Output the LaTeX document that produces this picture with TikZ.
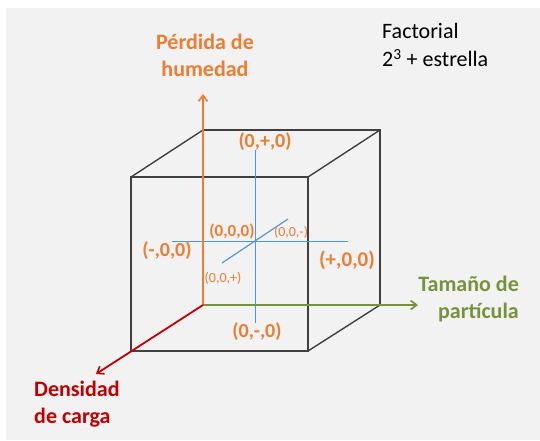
\documentclass[tikz,border=0pt]{standalone}
\usepackage{fontspec}
\setmainfont{Carlito}
\usetikzlibrary{arrows.meta}
\definecolor{bggray}{RGB}{242,242,242}
\definecolor{cubeline}{RGB}{64,64,64}
\definecolor{axorange}{RGB}{237,125,49}
\definecolor{axgreen}{RGB}{118,146,60}
\definecolor{axred}{RGB}{192,0,0}
\definecolor{axblue}{RGB}{80,150,215}
\begin{document}
\begin{tikzpicture}[x=1pt,y=-1pt,
  cubeedge/.style={draw=cubeline,line width=1.4pt},
  axisarrow/.style={line width=1.8pt,-{Straight Barb[length=6pt,width=9pt,line width=1.6pt]}},
  starline/.style={draw=axblue,line width=1.2pt},
  axlabel/.style={font=\fontsize{22}{27}\selectfont\bfseries,align=center,inner sep=0pt},
  ptbig/.style={text=axorange,font=\fontsize{20}{24}\selectfont\bfseries,inner sep=0pt},
  ptmid/.style={text=axorange,font=\fontsize{17}{20}\selectfont\bfseries,inner sep=0pt},
  ptsmall/.style={text=axorange,font=\fontsize{14}{17}\selectfont,inner sep=0pt}]
\useasboundingbox (0,0) rectangle (540,440);
\fill[white] (0,0) rectangle (540,440);
\fill[bggray] (6,8) rectangle (540,440);
% cube corners
\coordinate (FTL) at (131,177);
\coordinate (FTR) at (308,177);
\coordinate (FBL) at (131,351);
\coordinate (FBR) at (308,351);
\coordinate (BTL) at (203,130);
\coordinate (BTR) at (380,130);
\coordinate (BBL) at (203,305);
\coordinate (BBR) at (380,305);
% cube edges
\draw[cubeedge] (FTL) -- (FTR) -- (FBR) -- (FBL) -- cycle;
\draw[cubeedge] (BTL) -- (BTR) -- (BBR);
\draw[cubeedge] (FTL) -- (BTL);
\draw[cubeedge] (FTR) -- (BTR);
\draw[cubeedge] (FBR) -- (BBR);
% star lines
\coordinate (SU) at (255.5,150);
\coordinate (SD) at (255.5,323);
\coordinate (SL) at (172,241.5);
\coordinate (SR) at (348,241.5);
\coordinate (SF) at (222,263);
\coordinate (SB) at (288,219);
\draw[starline] (SU) -- (SD);
\draw[starline] (SL) -- (SR);
\draw[starline] (SF) -- (SB);
% axis end points
\coordinate (AUp) at (203,94);
\coordinate (ARight) at (418,305);
\coordinate (ADown) at (96,374);
\draw[axisarrow,draw=axorange] (BBL) -- (AUp);
\draw[axisarrow,draw=axgreen] (BBL) -- (ARight);
\draw[axisarrow,draw=axred] (BBL) -- (ADown);
% axis labels
\node[axlabel,text=axorange] (lup) at (205,55) {Pérdida de\\humedad};
\node[axlabel,text=axgreen,align=right,anchor=east] (lright) at (519,299) {Tamaño de\\partícula};
\node[axlabel,text=axred,align=left,anchor=west] (ldown) at (34,404) {Densidad\\de carga};
\node[font=\fontsize{22}{28}\selectfont,align=left,anchor=west,inner sep=0pt] (title) at (382,45) {Factorial\\2\textsuperscript{3} + estrella};
% point labels
\node[ptbig] (p1) at (265,142) {(0,+,0)};
\node[ptbig] (p2) at (257,332) {(0,-,0)};
\node[ptbig] (p3) at (167,251) {(-,0,0)};
\node[ptbig,font=\fontsize{21}{24}\selectfont\bfseries] (p4) at (347,260) {(+,0,0)};
\node[ptmid] (p5) at (232,231) {(0,0,0)};
\node[ptsmall] (p6) at (291,232) {(0,0,-)};
\node[ptsmall] (p7) at (223,278) {(0,0,+)};
\end{tikzpicture}
\end{document}
